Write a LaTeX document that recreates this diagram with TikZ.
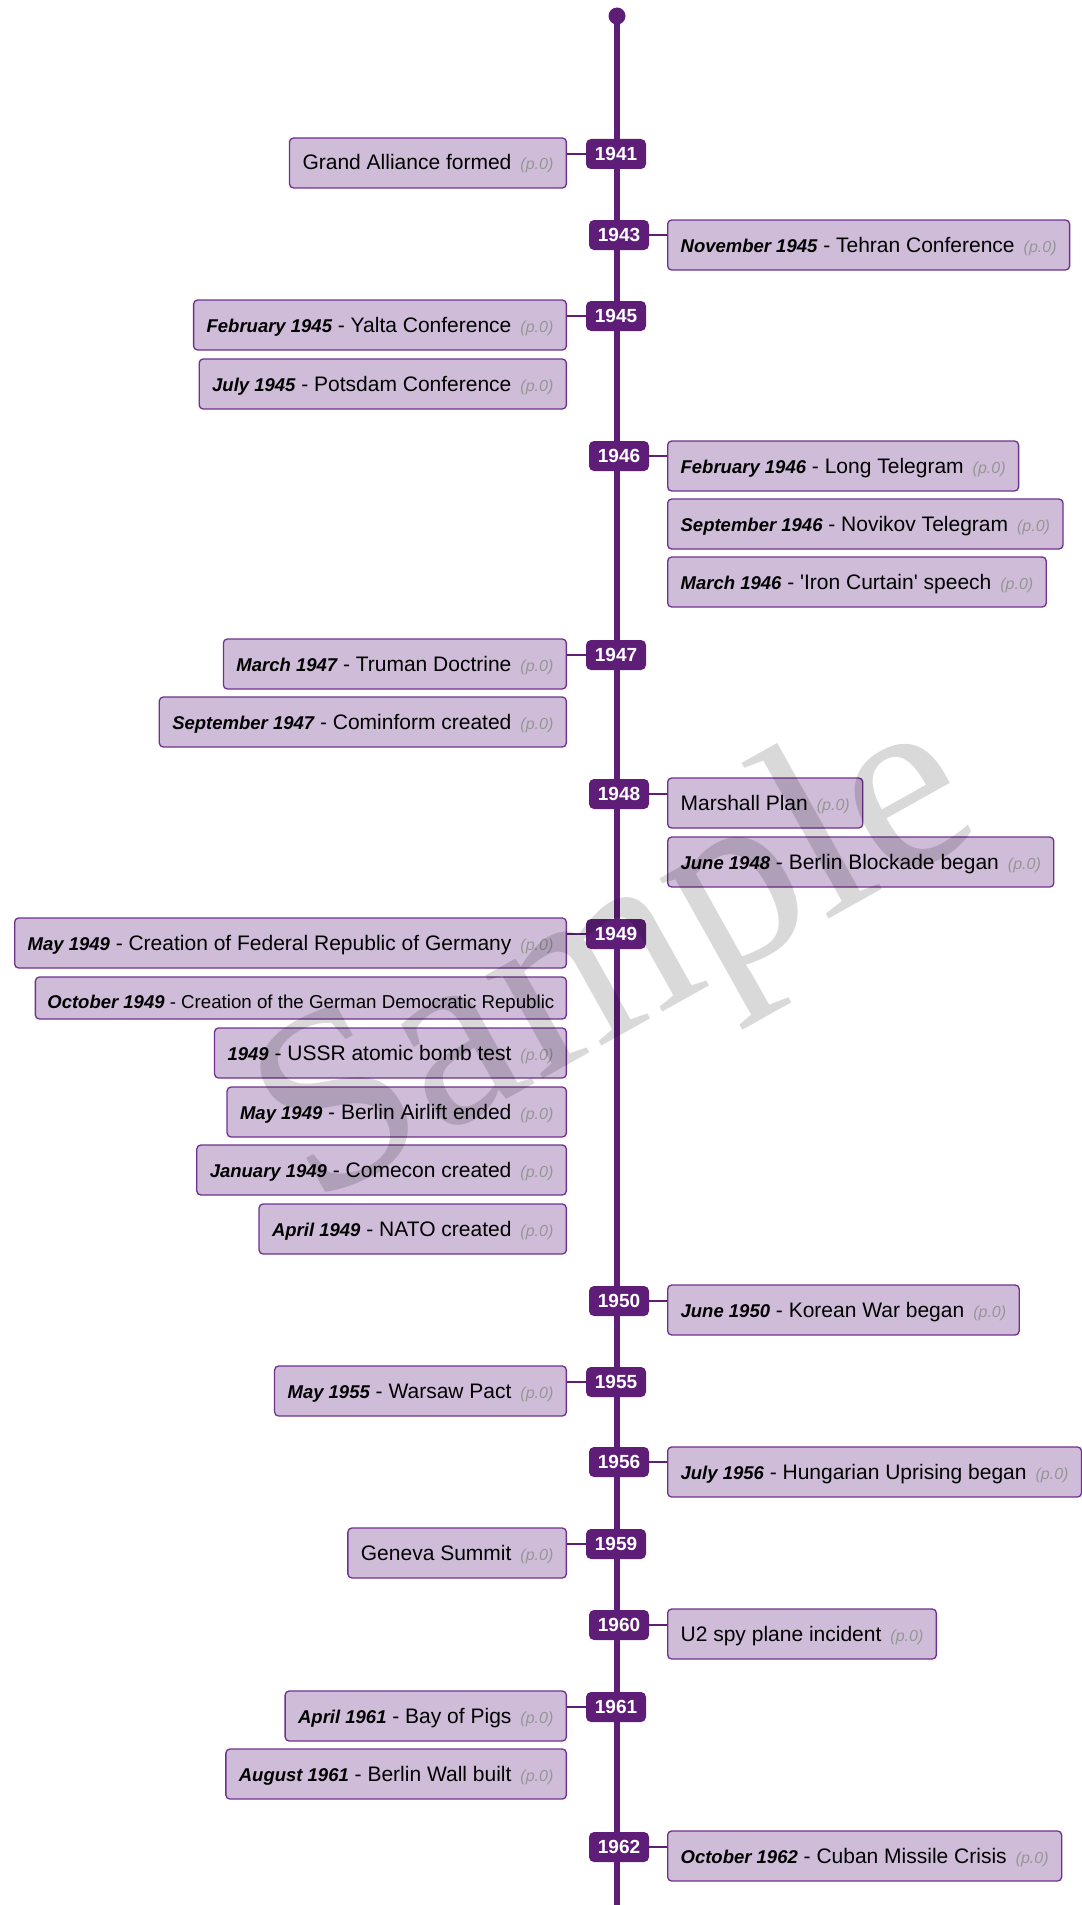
\documentclass[tikz,border=0pt]{standalone}
\usepackage{fontspec}
\setmainfont{Liberation Sans}
\newfontfamily\wmfont{Liberation Serif}
\definecolor{tl}{RGB}{94,30,120}
\definecolor{boxborder}{RGB}{112,48,142}
\definecolor{boxfill}{RGB}{207,188,217}
\definecolor{pgray}{RGB}{150,150,150}
\newcommand\evdate[1]{{\fontsize{18.5pt}{20pt}\selectfont\bfseries\itshape #1}}
\newcommand\evpage{\hspace{9pt}{\fontsize{16pt}{18pt}\selectfont\itshape\color{pgray}(p.0)}}
\tikzset{
  evbox/.style={draw=boxborder, fill=boxfill, line width=1.3pt, rounded corners=4pt,
    minimum height=50pt, inner xsep=13pt, inner ysep=0pt, text height=17pt, text depth=3pt,
    font=\fontsize{21pt}{24pt}\selectfont},
  lbox/.style={evbox, anchor=east},
  rbox/.style={evbox, anchor=west},
  badge/.style={fill=tl, rounded corners=5pt, minimum width=60pt, minimum height=30pt,
    inner sep=0pt, text=white, text height=13.6pt, text depth=0pt,
    font=\fontsize{19pt}{20pt}\selectfont\bfseries},
  conn/.style={draw=tl, line width=2.5pt},
  tline/.style={draw=tl, line width=6pt}
}
\begin{document}
\begin{tikzpicture}[x=1pt,y=-1pt]
\useasboundingbox (0,0) rectangle (1081,1905);
% timeline
\node[circle, fill=tl, minimum size=17pt, inner sep=0pt] (top) at (617,16) {};
\coordinate (bot) at (617,1905);
\draw[tline] (top.center) -- (bot);

% events
\node[lbox] (e1) at (567,163) {Grand Alliance formed\evpage};
\node[rbox] (e2) at (667,245) {\evdate{November 1945} - Tehran Conference\evpage};
\node[lbox] (e3) at (567,325) {\evdate{February 1945} - Yalta Conference\evpage};
\node[lbox] (e4) at (567,384) {\evdate{July 1945} - Potsdam Conference\evpage};
\node[rbox] (e5) at (667,466) {\evdate{February 1946} - Long Telegram\evpage};
\node[rbox] (e6) at (667,524) {\evdate{September 1946} - Novikov Telegram\evpage};
\node[rbox] (e7) at (667,582) {\evdate{March 1946} - \textquotesingle Iron Curtain\textquotesingle{} speech\evpage};
\node[lbox] (e8) at (567,664) {\evdate{March 1947} - Truman Doctrine\evpage};
\node[lbox] (e9) at (567,722) {\evdate{September 1947} - Cominform created\evpage};
\node[rbox] (e10) at (667,803) {Marshall Plan\evpage};
\node[rbox] (e11) at (667,862) {\evdate{June 1948} - Berlin Blockade began\evpage};
\node[lbox] (e12) at (567,943) {\evdate{May 1949} - Creation of Federal Republic of Germany\evpage};
\node[lbox, minimum height=42pt, inner xsep=12pt, text height=20pt, text depth=0pt,
  font=\fontsize{18.7pt}{20pt}\selectfont] (e13) at (567,998)
  {\evdate{October 1949} - Creation of the German Democratic Republic};
\node[lbox] (e14) at (567,1053) {\evdate{1949} - USSR atomic bomb test\evpage};
\node[lbox] (e15) at (567,1112) {\evdate{May 1949} - Berlin Airlift ended\evpage};
\node[lbox] (e16) at (567,1170) {\evdate{January 1949} - Comecon created\evpage};
\node[lbox] (e17) at (567,1229) {\evdate{April 1949} - NATO created\evpage};
\node[rbox] (e18) at (667,1310) {\evdate{June 1950} - Korean War began\evpage};
\node[lbox] (e19) at (567,1391) {\evdate{May 1955} - Warsaw Pact\evpage};
\node[rbox] (e20) at (667,1472) {\evdate{July 1956} - Hungarian Uprising began\evpage};
\node[lbox] (e21) at (567,1553) {Geneva Summit\evpage};
\node[rbox] (e22) at (667,1634) {U2 spy plane incident\evpage};
\node[lbox] (e23) at (567,1716) {\evdate{April 1961} - Bay of Pigs\evpage};
\node[lbox] (e24) at (567,1774) {\evdate{August 1961} - Berlin Wall built\evpage};
\node[rbox] (e25) at (667,1856) {\evdate{October 1962} - Cuban Missile Crisis\evpage};

% year badges
\node[badge] (b41) at (616,154) {1941};
\node[badge] (b43) at (619,235) {1943};
\node[badge] (b45) at (616,316) {1945};
\node[badge] (b46) at (619,456) {1946};
\node[badge] (b47) at (616,655) {1947};
\node[badge] (b48) at (619,794) {1948};
\node[badge] (b49) at (616,934) {1949};
\node[badge] (b50) at (619,1301) {1950};
\node[badge] (b55) at (616,1382) {1955};
\node[badge] (b56) at (619,1462) {1956};
\node[badge] (b59) at (616,1544) {1959};
\node[badge] (b60) at (619,1625) {1960};
\node[badge] (b61) at (616,1707) {1961};
\node[badge] (b62) at (619,1847) {1962};

% connectors
\draw[conn] (b41.west) -- (b41.west -| e1.east);
\draw[conn] (b43.east) -- (b43.east -| e2.west);
\draw[conn] (b45.west) -- (b45.west -| e3.east);
\draw[conn] (b46.east) -- (b46.east -| e5.west);
\draw[conn] (b47.west) -- (b47.west -| e8.east);
\draw[conn] (b48.east) -- (b48.east -| e10.west);
\draw[conn] (b49.west) -- (b49.west -| e12.east);
\draw[conn] (b50.east) -- (b50.east -| e18.west);
\draw[conn] (b55.west) -- (b55.west -| e19.east);
\draw[conn] (b56.east) -- (b56.east -| e20.west);
\draw[conn] (b59.west) -- (b59.west -| e21.east);
\draw[conn] (b60.east) -- (b60.east -| e22.west);
\draw[conn] (b61.west) -- (b61.west -| e23.east);
\draw[conn] (b62.east) -- (b62.east -| e25.west);

% watermark
\node[rotate=29.2, text=black, text opacity=0.15, inner sep=0pt,
  font=\wmfont\fontsize{257pt}{260pt}\selectfont] (wm) at (620,965) {Sample};
\end{tikzpicture}
\end{document}
